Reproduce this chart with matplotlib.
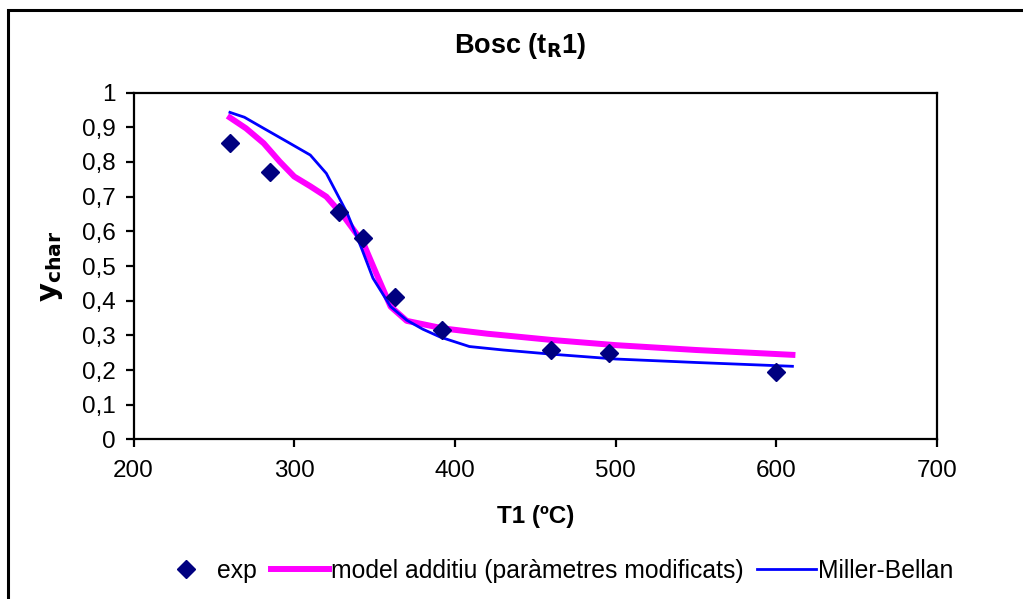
import matplotlib
matplotlib.use("Agg")
import matplotlib.pyplot as plt
from matplotlib.lines import Line2D
from matplotlib.patches import Rectangle
from matplotlib.ticker import FuncFormatter

plt.rcParams['font.family'] = ['Liberation Sans', 'DejaVu Sans']

# experimental points
exp_T = [260, 285, 328, 343, 363, 392, 460, 496, 600]
exp_y = [0.855, 0.772, 0.657, 0.581, 0.411, 0.317, 0.258, 0.250, 0.195]

# model additiu (parametres modificats)
model_T = [260, 270, 281, 291, 300, 310, 320, 331, 343, 351, 360, 370, 393, 420, 460, 500, 550, 610]
model_y = [0.928, 0.897, 0.854, 0.801, 0.758, 0.73, 0.70, 0.642, 0.566, 0.479, 0.383, 0.342, 0.32, 0.305, 0.287, 0.272, 0.258, 0.244]

# Miller-Bellan
mb_T = [260, 269, 281, 295, 310, 320, 333, 342, 349, 360, 370, 380, 391, 409, 430, 460, 500, 550, 610]
mb_y = [0.943, 0.929, 0.897, 0.86, 0.82, 0.767, 0.652, 0.55, 0.465, 0.383, 0.344, 0.318, 0.295, 0.268, 0.258, 0.246, 0.232, 0.222, 0.211]

fig = plt.figure(figsize=(10.23, 5.99), dpi=100)
ax = fig.add_axes([0.1305, 0.2663, 0.7855, 0.5791])

ax.plot(model_T, model_y, color='#FF00FF', lw=4.3, solid_joinstyle='round', zorder=2)
ax.plot(mb_T, mb_y, color='#0000FF', lw=2.0, zorder=3)
ax.plot(exp_T, exp_y, 'D', color='#000080', ms=9, zorder=4)

ax.set_xlim(200, 700)
ax.set_ylim(0, 1)
ax.set_xticks([200, 300, 400, 500, 600, 700])
ax.set_yticks([i / 10 for i in range(11)])
ax.yaxis.set_major_formatter(FuncFormatter(
    lambda v, p: '0' if v == 0 else ('1' if v == 1 else f'{v:.1f}'.replace('.', ','))))

for s in ax.spines.values():
    s.set_linewidth(1.6)
ax.tick_params(direction='out', length=6, width=1.6, labelsize=17.5, pad=7)
ax.tick_params(axis='x', pad=9)

ax.set_xlabel('T1 (ºC)', fontsize=17.5, fontweight='bold', labelpad=16)
ax.set_ylabel(r'$\mathbf{y_{char}}$', fontsize=21, labelpad=12)
fig.text(520 / 1023, 1 - 46 / 599, r'Bosc (t$\mathbf{_R}$1)', fontsize=19.5,
         fontweight='bold', ha='center', va='center')

# legend at the bottom
handles = [
    Line2D([], [], ls='none', marker='D', color='#000080', ms=9),
    Line2D([], [], color='#FF00FF', lw=4.3),
    Line2D([], [], color='#0000FF', lw=2.0),
]
labels = ['exp', 'model additiu (paràmetres modificats)', 'Miller-Bellan']
fig.legend(handles, labels, loc='center', bbox_to_anchor=(555 / 1023, 1 - 571 / 599),
           ncol=3, frameon=False, fontsize=17.8, handlelength=2.35,
           handletextpad=0.1, columnspacing=0.55)

# outer chart frame (cut off on right and bottom)
fig.patches.append(Rectangle((8 / 1023, -0.1), 1.2, 1 - 10 / 599 + 0.1,
                             transform=fig.transFigure, fill=False,
                             edgecolor='black', lw=2.2))

fig.savefig('out.png', dpi=100)
